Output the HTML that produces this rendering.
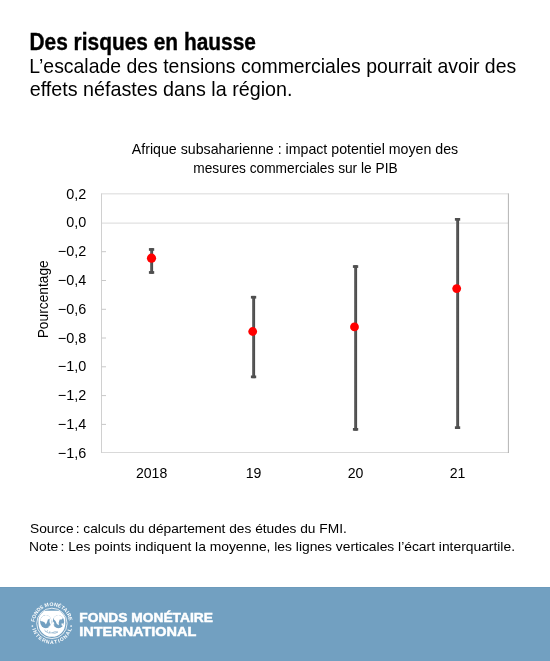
<!DOCTYPE html>
<html>
<head>
<meta charset="utf-8">
<style>
html,body{margin:0;padding:0;background:#fff;}
body{width:550px;height:661px;overflow:hidden;position:relative;}
svg{position:absolute;left:0;top:0;display:block;will-change:transform;}
text{font-family:"Liberation Sans",sans-serif;}
</style>
</head>
<body>
<svg width="550" height="661" viewBox="0 0 550 661">
  <!-- Header -->
  <text x="29.5" y="49.7" font-size="23" font-weight="bold" fill="#000" stroke="#000" stroke-width="0.35" textLength="226.4" lengthAdjust="spacingAndGlyphs">Des risques en hausse</text>
  <text x="29.3" y="73" font-size="19.8" fill="#000" textLength="486.9" lengthAdjust="spacingAndGlyphs">L’escalade des tensions commerciales pourrait avoir des</text>
  <text x="29.7" y="95.9" font-size="19.8" fill="#000" textLength="262.8" lengthAdjust="spacingAndGlyphs">effets néfastes dans la région.</text>

  <!-- Chart title -->
  <text x="131.8" y="153.5" font-size="13.9" fill="#000" textLength="326.4" lengthAdjust="spacingAndGlyphs">Afrique subsaharienne : impact potentiel moyen des</text>
  <text x="193.3" y="172.7" font-size="13.9" fill="#000" textLength="204.3" lengthAdjust="spacingAndGlyphs">mesures commerciales sur le PIB</text>

  <!-- Plot area -->
  <g fill="none" stroke-width="1">
    <line x1="101.5" y1="193.85" x2="508.4" y2="193.85" stroke="#d9d9d9"/>
    <line x1="101.5" y1="223.1" x2="508.4" y2="223.1" stroke="#d9d9d9"/>
    <line x1="101.5" y1="452.5" x2="508.9" y2="452.5" stroke="#d9d9d9"/>
    <line x1="101.5" y1="193.4" x2="101.5" y2="453" stroke="#d0d0d0"/>
    <line x1="508.4" y1="193.4" x2="508.4" y2="453" stroke="#b3b3b3"/>
    <!-- ticks -->
    <g stroke="#c8c8c8">
      <line x1="101.5" y1="251.7" x2="106" y2="251.7"/>
      <line x1="101.5" y1="280.5" x2="106" y2="280.5"/>
      <line x1="101.5" y1="309.3" x2="106" y2="309.3"/>
      <line x1="101.5" y1="338.0" x2="106" y2="338.0"/>
      <line x1="101.5" y1="366.8" x2="106" y2="366.8"/>
      <line x1="101.5" y1="395.6" x2="106" y2="395.6"/>
      <line x1="101.5" y1="424.4" x2="106" y2="424.4"/>
    </g>
  </g>

  <!-- Y axis labels -->
  <g font-size="14.4" fill="#000" text-anchor="end">
    <text x="86.2" y="198.5">0,2</text>
    <text x="86.2" y="227.3">0,0</text>
    <text x="86.2" y="256.1">−0,2</text>
    <text x="86.2" y="284.9">−0,4</text>
    <text x="86.2" y="313.7">−0,6</text>
    <text x="86.2" y="342.5">−0,8</text>
    <text x="86.2" y="371.3">−1,0</text>
    <text x="86.2" y="400.1">−1,2</text>
    <text x="86.2" y="428.9">−1,4</text>
    <text x="86.2" y="457.7">−1,6</text>
  </g>

  <!-- X axis labels -->
  <g font-size="14.1" fill="#000" text-anchor="middle">
    <text x="151.6" y="477.6">2018</text>
    <text x="253.6" y="477.6">19</text>
    <text x="355.6" y="477.6">20</text>
    <text x="457.5" y="477.6">21</text>
  </g>

  <!-- Y axis title -->
  <text transform="translate(47.9,299.3) rotate(-90)" font-size="14.3" fill="#000" text-anchor="middle" textLength="78" lengthAdjust="spacingAndGlyphs">Pourcentage</text>

  <!-- Error bars -->
  <defs>
    <linearGradient id="barg" x1="0" x2="1" y1="0" y2="0">
      <stop offset="0" stop-color="#8a8a8a"/>
      <stop offset="0.35" stop-color="#5a5a5a"/>
      <stop offset="1" stop-color="#474747"/>
    </linearGradient>
  </defs>
  <g>
    <rect x="150.0" y="248.1" width="3.1" height="25.7" fill="url(#barg)"/>
    <rect x="148.9" y="248.1" width="5.3" height="2.7" fill="#4f4f4f"/>
    <rect x="148.9" y="271.1" width="5.3" height="2.7" fill="#4f4f4f"/>
    <rect x="252.0" y="295.9" width="3.1" height="82.3" fill="url(#barg)"/>
    <rect x="250.9" y="295.9" width="5.3" height="2.7" fill="#4f4f4f"/>
    <rect x="250.9" y="375.5" width="5.3" height="2.7" fill="#4f4f4f"/>
    <rect x="354.0" y="265.2" width="3.1" height="165.5" fill="url(#barg)"/>
    <rect x="352.9" y="265.2" width="5.3" height="2.7" fill="#4f4f4f"/>
    <rect x="352.9" y="428.0" width="5.3" height="2.7" fill="#4f4f4f"/>
    <rect x="456.0" y="218.0" width="3.1" height="211.0" fill="url(#barg)"/>
    <rect x="454.9" y="218.0" width="5.3" height="2.7" fill="#4f4f4f"/>
    <rect x="454.9" y="426.3" width="5.3" height="2.7" fill="#4f4f4f"/>
  </g>
  <g fill="#ff0000">
    <circle cx="151.5" cy="258.2" r="4.6"/>
    <circle cx="252.7" cy="331.5" r="4.4"/>
    <circle cx="354.5" cy="326.9" r="4.4"/>
    <circle cx="456.7" cy="288.6" r="4.4"/>
  </g>

  <!-- Source / Note -->
  <text x="30" y="532.8" font-size="13.65" fill="#000" textLength="316.8" lengthAdjust="spacingAndGlyphs">Source <tspan dx="-1.6">:</tspan> calculs du département des études du FMI.</text>
  <text x="29" y="551" font-size="13.65" fill="#000" textLength="486" lengthAdjust="spacingAndGlyphs">Note <tspan dx="-1.6">:</tspan> Les points indiquent la moyenne, les lignes verticales l’écart interquartile.</text>

  <!-- Footer -->
  <rect x="0" y="587" width="550" height="74" fill="#72a0c1"/>
  <rect x="0" y="587" width="550" height="1" fill="#6d9bbc"/>
  <text x="79.3" y="622.2" font-size="12.2" font-weight="bold" fill="#fff" stroke="#fff" stroke-width="0.45" textLength="133.6" lengthAdjust="spacingAndGlyphs">FONDS MONÉTAIRE</text>
  <text x="79.3" y="636.2" font-size="12.2" font-weight="bold" fill="#fff" stroke="#fff" stroke-width="0.45" textLength="117" lengthAdjust="spacingAndGlyphs">INTERNATIONAL</text>

  <!-- Logo -->
  <g transform="translate(51.9,623.4)" fill="#fff">
    <defs>
      <clipPath id="ringClip"><circle r="14.4"/></clipPath>
      <clipPath id="hemL"><ellipse cx="-6.1" cy="-1.8" rx="5.7" ry="6.6"/></clipPath>
      <clipPath id="hemR"><ellipse cx="6.5" cy="-1.8" rx="5.7" ry="6.6"/></clipPath>
    </defs>
    <g font-family="Liberation Serif" font-weight="bold" font-size="5.1" text-anchor="middle">
      <text transform="translate(-17.16,-2.90) rotate(-80.4)">F</text>
      <text transform="translate(-16.20,-6.35) rotate(-68.6)">O</text>
      <text transform="translate(-14.38,-9.79) rotate(-55.7)">N</text>
      <text transform="translate(-11.95,-12.65) rotate(-43.4)">D</text>
      <text transform="translate(-9.37,-14.66) rotate(-32.6)">S</text>
      <text transform="translate(-4.78,-16.73) rotate(-15.9)">M</text>
      <text transform="translate(-0.32,-17.40) rotate(-1.0)">O</text>
      <text transform="translate(3.56,-17.03) rotate(11.8)">N</text>
      <text transform="translate(6.97,-15.94) rotate(23.6)">É</text>
      <text transform="translate(9.79,-14.38) rotate(34.3)">T</text>
      <text transform="translate(12.39,-12.22) rotate(45.4)">A</text>
      <text transform="translate(14.21,-10.05) rotate(54.7)">I</text>
      <text transform="translate(15.65,-7.61) rotate(64.1)">R</text>
      <text transform="translate(16.88,-4.23) rotate(75.9)">E</text>
      <text transform="translate(-19.55,6.17) rotate(72.5)">I</text>
      <text transform="translate(-18.14,9.56) rotate(62.2)">N</text>
      <text transform="translate(-15.66,13.23) rotate(49.8)">T</text>
      <text transform="translate(-12.58,16.18) rotate(37.9)">E</text>
      <text transform="translate(-8.81,18.51) rotate(25.5)">R</text>
      <text transform="translate(-4.48,20.00) rotate(12.6)">N</text>
      <text transform="translate(-0.13,20.50) rotate(0.4)">A</text>
      <text transform="translate(4.07,20.09) rotate(-11.5)">T</text>
      <text transform="translate(7.44,19.10) rotate(-21.3)">I</text>
      <text transform="translate(10.84,17.40) rotate(-31.9)">O</text>
      <text transform="translate(14.53,14.46) rotate(-45.1)">N</text>
      <text transform="translate(17.38,10.88) rotate(-58.0)">A</text>
      <text transform="translate(19.30,6.90) rotate(-70.3)">L</text>
    </g>
    <circle cx="-19.5" cy="2.6" r="0.85"/>
    <circle cx="19.2" cy="2.6" r="0.85"/>
    <circle r="15.2" fill="none" stroke="#fff" stroke-width="0.8"/>
    <path clip-path="url(#ringClip)" d="M -13.4 -12.6 H 13.4 V 0 A 13.4 13.4 0 0 1 -13.4 0 Z"/>
    <ellipse cx="-6.1" cy="-1.8" rx="5.7" ry="6.6" fill="#72a0c1"/>
    <ellipse cx="6.5" cy="-1.8" rx="5.7" ry="6.6" fill="#72a0c1"/>
    <g clip-path="url(#hemL)">
      <path d="M -12 -4 L -9.5 -7.5 L -6 -8.5 L -1.5 -8.3 L -0.8 -6 L -2.5 -4.5 L -4 -3.8 L -4.8 -1.5 L -6 1 L -7.2 -1 L -9 -2 L -11.5 -2.3 Z"/>
      <path d="M -2.2 -7 L 0 -5.5 L -0.2 -1.5 L -1 2 L -2.4 -1.5 Z"/>
      <path d="M -3.2 2.5 L -1.2 2 L -0.5 4.3 L -2.8 4.5 Z"/>
    </g>
    <g clip-path="url(#hemR)">
      <path d="M 1 -8.5 L 5 -9 L 8.5 -8.5 L 11.5 -6 L 9.8 -4 L 7.8 -3.8 L 6.8 -1 L 7 1.8 L 5 0.5 L 3.6 -2.5 L 2 -4 Z"/>
      <path d="M 9.5 0 L 12 0.2 L 11.5 3 L 9.8 2.2 Z"/>
      <path d="M 0.5 -3 L 2.3 -0.5 L 2.2 3.5 L 0.7 2 Z"/>
    </g>
    <g fill="none" stroke="#72a0c1" stroke-width="0.7" opacity="0.85">
      <path d="M -7 7.6 Q -3.5 10.6 0.3 9.4"/>
      <path d="M 0.3 9.4 Q 3 7.6 6 8.6 Q 3 10.8 0.3 9.4"/>
      <path d="M -5 8.4 L -4.3 6.9 M -2.5 9.4 L -2 7.8 M -7.5 6.6 L -6.5 7.4"/>
    </g>
  </g>
</svg>
</body>
</html>
